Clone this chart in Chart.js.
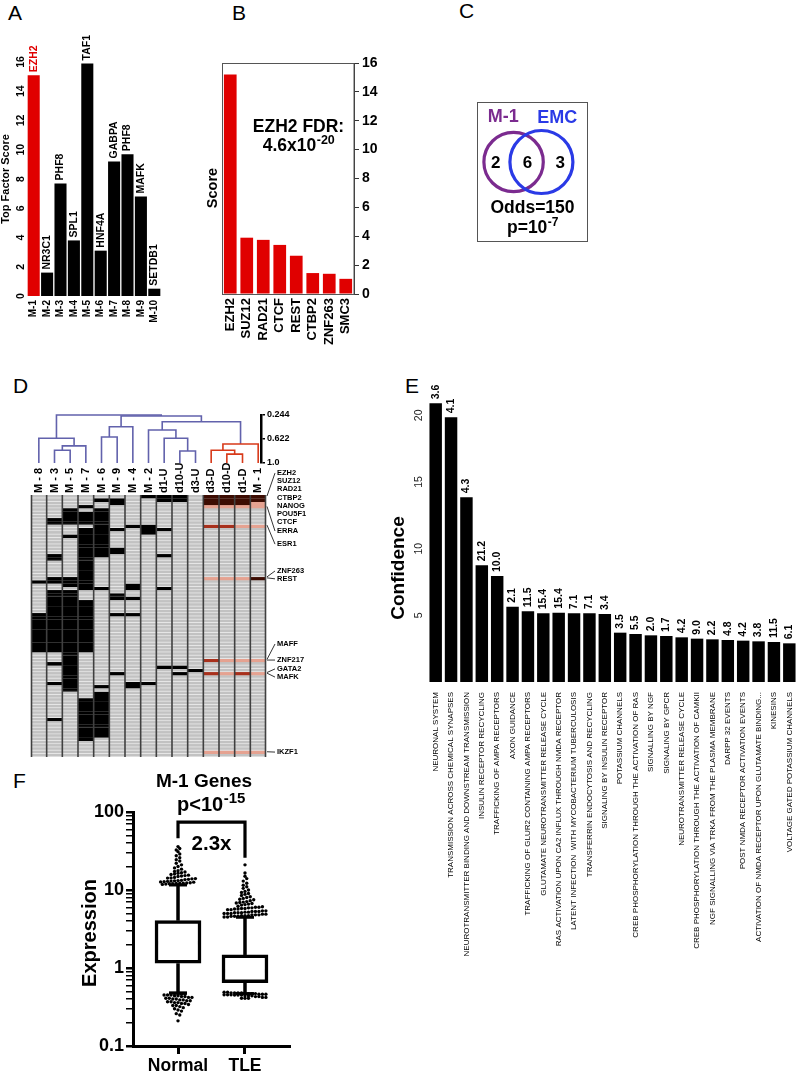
<!DOCTYPE html>
<html><head><meta charset="utf-8"><title>Figure</title>
<script src="https://cdn.jsdelivr.net/npm/chart.js@4.4.1/dist/chart.umd.min.js"></script>
<style>
html,body{margin:0;padding:0;background:#fff;}
#page{position:relative;width:800px;height:1075px;overflow:hidden;background:#fff;}
#page canvas{position:absolute;}
.pl{position:absolute;font-family:'Liberation Sans',Arial,sans-serif;font-size:21px;line-height:21px;color:#000;}
</style></head>
<body><div id="page">
<div class="pl" style="left:8px;top:2px">A</div>
<div class="pl" style="left:232px;top:2px">B</div>
<div class="pl" style="left:459px;top:0px">C</div>
<div class="pl" style="left:13px;top:375px">D</div>
<div class="pl" style="left:405px;top:375px">E</div>
<div class="pl" style="left:13px;top:770px">F</div>
<canvas id="cA" width="200" height="345" style="left:0px;top:0px"></canvas>
<canvas id="cB" width="200" height="360" style="left:200px;top:0px"></canvas>
<canvas id="cC" width="111" height="140" style="left:477px;top:102px"></canvas>
<canvas id="cDend" width="300" height="70" style="left:0px;top:400px"></canvas>
<canvas id="cHeat" width="330" height="312" style="left:0px;top:455px"></canvas>
<canvas id="cE" width="430" height="630" style="left:370px;top:370px"></canvas>
<canvas id="cF" width="310" height="315" style="left:0px;top:760px"></canvas>
</div>
<script>
// ================= DATA =================
// Panel A
const factorModules = ['M-1','M-2','M-3','M-4','M-5','M-6','M-7','M-8','M-9','M-10'];
const factorNames   = ['EZH2','NR3C1','PHF8','SPL1','TAF1','HNF4A','GABPA','PHF8','MAFK','SETDB1'];
const factorScores  = [15.1, 1.6, 7.7, 3.8, 15.9, 3.1, 9.2, 9.7, 6.8, 0.5];
const factorTicksA  = [0,2,4,6,8,10,12,14,16];

// Panel B
const emcFactors = ['EZH2','SUZ12','RAD21','CTCF','REST','CTBP2','ZNF263','SMC3'];
const emcScores  = [15.2, 3.9, 3.75, 3.4, 2.65, 1.45, 1.4, 1.05];
const emcFdrBase = '4.6x10', emcFdrExp = '-20';

// Panel C
const vennSets   = ['M-1','EMC'];
const vennOnly   = [2, 3];
const vennShared = 6;
const vennOdds   = 'Odds=150', vennPBase = 'p=10', vennPExp = '-7';

// Panel D
const heatCols = ['M - 8','M - 3','M - 5','M - 7','M - 6','M - 9','M - 4','M - 2','d1-U','d10-U','d3-U','d3-D','d10-D','d1-D','M - 1'];
const heatRowCount = 80;
// black (bound) runs per column: [startRow, endRow)
const blackRuns = [
  [[26,27],[36,48]],
  [[7,9],[18,20],[25,27],[29,48],[51,52],[57,58],[68,69]],
  [[4,9],[12,13],[25,28],[29,60]],
  [[3,4],[5,9],[10,29],[32,48],[62,75]],
  [[1,2],[4,19],[28,29],[58,59],[60,74]],
  [[1,3],[10,11],[16,18],[30,32],[36,37],[54,55]],
  [[9,10],[27,29],[31,32],[36,37],[57,59]],
  [[0,1],[9,12],[57,58]],
  [[0,2],[10,11],[18,19],[28,29],[52,53]],
  [[0,2],[52,53],[54,55]],
  [[53,54]],
  [],[],[],[]
];
// EZH2-cluster marks: [row, level] level 2 = strong, 3 = medium, 4 = weak
const clusterMarks = [
  [],[],[],[],[],[],[],[],[],[],[],
  [[0,2],[1,2],[2,2],[3,4],[9,3],[25,4],[50,3],[54,3],[78,4]],
  [[0,2],[1,2],[2,2],[3,4],[9,3],[25,4],[50,4],[54,4],[78,4]],
  [[0,2],[1,2],[2,2],[3,4],[9,4],[25,4],[50,4],[54,3],[78,4]],
  [[0,2],[1,2],[2,4],[3,4],[9,4],[25,2],[50,4],[54,4],[78,4]]
];
// dendrogram merges: [childA, childB, height]; leaves are heatCols indices
const dendroMerges = [
  [1,2,0.80],[15,3,0.73],[0,16,0.61],[4,5,0.59],[18,6,0.43],
  [9,10,0.81],[8,20,0.61],[7,21,0.48],[12,13,0.86],[11,23,0.80],
  [24,14,0.70],[22,25,0.35],[19,26,0.26],[17,27,0.244]
];
const dendroTicks = [0.244, 0.622, 1.0];
const dendroTickLabels = ['0.244','0.622','1.0'];
const tfLabels = ['EZH2','SUZ12','RAD21','CTBP2','NANOG','POU5F1','CTCF','ERRA','ESR1','ZNF263','REST','MAFF','ZNF217','GATA2','MAFK','IKZF1'];
const tfLabelRows = [-6.7,-4.3,-1.8,0.9,3.4,5.8,8.2,11,15,23.2,25.6,45.5,50.4,53.1,55.6,78.5];
const tfLeaders = [[0.3,0],[3.5,7],[9.2,8],[25,9],[25.3,10],[50.2,11],[50.4,12],[54.2,13],[54.4,14],[78.4,15]];

// Panel E
const pathways = [
  'NEURONAL SYSTEM','TRANSMISSION ACROSS CHEMICAL SYNAPSES','NEUROTRANSMITTER BINDING AND DOWNSTREAM TRANSMISSION',
  'INSULIN RECEPTOR RECYCLING','TRAFFICKING OF AMPA RECEPTORS','AXON GUIDANCE',
  'TRAFFICKING OF GLUR2 CONTAINING AMPA RECEPTORS','GLUTAMATE NEUROTRANSMITTER RELEASE CYCLE',
  'RAS ACTIVATION UPON CA2 INFLUX THROUGH NMDA RECEPTOR','LATENT INFECTION  WITH MYCOBACTERIUM TUBERCULOSIS',
  'TRANSFERRIN ENDOCYTOSIS AND RECYCLING','SIGNALING BY INSULIN RECEPTOR','POTASSIUM CHANNELS',
  'CREB PHOSPHORYLATION THROUGH THE ACTIVATION OF RAS','SIGNALLING BY NGF','SIGNALING BY GPCR',
  'NEUROTRANSMITTER RELEASE CYCLE','CREB PHOSPHORYLATION THROUGH THE ACTIVATION OF CAMKII',
  'NGF SIGNALLING VIA TRKA FROM THE PLASMA MEMBRANE','DARPP 32 EVENTS','POST NMDA RECEPTOR ACTIVATION EVENTS',
  'ACTIVATION OF NMDA RECEPTOR UPON GLUTAMATE BINDING...','KINESINS','VOLTAGE GATED POTASSIUM CHANNELS'
];
const pathwayConfidence = [20.9,19.85,13.85,8.75,7.95,5.65,5.3,5.15,5.2,5.15,5.15,5.1,3.7,3.6,3.5,3.45,3.35,3.25,3.2,3.15,3.1,3.05,3.0,2.9];
const pathwayFold = ['3.6','4.1','4.3','21.2','10.0','2.1','11.5','15.4','15.4','7.1','7.1','3.4','3.5','5.5','2.0','1.7','4.2','9.0','2.2','4.8','4.2','3.8','11.5','6.1'];
const confidenceTicks = [5,10,15,20];

// Panel F
const boxGroups      = ['Normal','TLE'];
const boxWhiskerLow  = [0.48, 0.47];
const boxQ1          = [1.15, 0.65];
const boxMedian      = [2.1, 0.92];
const boxQ3          = [4.04, 1.47];
const boxWhiskerHigh = [11.6, 4.47];
const normalOutliers = [
  11.8,11.9,12.0,12.0,12.1,12.2,12.2,12.3,12.4,12.6,12.7,12.8,12.9,13.0,13.1,13.2,13.3,
  13.6,13.7,13.9,14.0,14.2,14.3,14.5,14.9,15.1,15.3,15.5,15.8,16.0,16.4,16.7,17.0,17.3,17.7,
  18.5,19.2,20.0,21.0,22.0,23.5,24.5,26.0,27.5,29.0,31.0,32.5,34.0,36.0,
  0.47,0.47,0.46,0.46,0.46,0.45,0.45,0.45,0.44,0.44,0.43,0.43,0.42,0.42,0.41,0.41,0.40,0.40,
  0.39,0.39,0.38,0.38,0.37,0.37,0.36,0.36,0.35,0.35,0.34,0.33,0.33,0.32,0.31,0.30,0.29,0.28,0.26,0.25,0.21
];
const tleOutliers = [
  4.5,4.5,4.6,4.6,4.6,4.7,4.7,4.7,4.8,4.8,4.8,4.9,4.9,5.0,5.0,5.0,5.1,5.1,5.1,5.2,5.2,5.3,5.3,5.3,5.4,5.4,
  5.6,5.6,5.7,5.7,5.8,5.8,5.9,5.9,6.0,6.0,6.1,6.2,6.4,6.5,6.6,6.7,6.8,6.9,7.0,7.1,7.3,7.5,7.6,7.8,8.0,8.2,
  8.5,8.8,9.0,9.3,9.6,10.0,10.5,11.0,11.5,12.2,13.0,14.0,15.0,16.5,21.0,
  0.49,0.49,0.48,0.48,0.48,0.48,0.47,0.47,0.47,0.47,0.46,0.46,0.46,
  0.455,0.455,0.455,0.45,0.45,0.45,0.44,0.44,0.44,0.43,0.43,0.42,0.42,
  0.41,0.41,0.41
];
const bracketLevels = [46, 74, 26];
const foldChangeLabel = '2.3x';
const fTitle = 'M-1 Genes', fPBase = 'p<10', fPExp = '-15';

// ================= STYLE / HELPERS =================
const FONT = "'Liberation Sans', Arial, Helvetica, sans-serif";
const f = (s,b)=>(b?'bold ':'')+s+'px '+FONT;
const RED = '#e00000', PURPLE = '#7b2b8f', BLUE = '#2a3ae6', DBLUE = '#6262ac', DRED = '#d83a1a';
Chart.defaults.font.family = FONT;
Chart.defaults.color = '#000';
Chart.defaults.animation = false;
Chart.defaults.responsive = false;
Chart.defaults.devicePixelRatio = 1;
Chart.defaults.events = [];
Chart.defaults.layout.autoPadding = false;
Chart.defaults.plugins.legend.display = false;
Chart.defaults.plugins.tooltip.enabled = false;

const fixW = w => s => { s.width = w; s.paddingTop = 0; s.paddingBottom = 0; };
const fixH = h => s => { s.height = h; s.paddingLeft = 0; s.paddingRight = 0; };
const noGrid = {display:false, drawTicks:false};
const noBorder = {display:false};
function rotText(ctx, s, x, y, font, color, align, baseline){
  ctx.save(); ctx.translate(x,y); ctx.rotate(-Math.PI/2);
  ctx.font=font; ctx.fillStyle=color; ctx.textAlign=align; ctx.textBaseline=baseline;
  ctx.fillText(s,0,0); ctx.restore();
}
function supText(ctx, base, sup, cx, baseline, size, supSize, color){
  ctx.save(); ctx.fillStyle=color; ctx.textAlign='left'; ctx.textBaseline='alphabetic';
  ctx.font=f(size,true); const wb=ctx.measureText(base).width;
  ctx.font=f(supSize,true); const ws=ctx.measureText(sup).width;
  const x0=cx-(wb+ws)/2;
  ctx.font=f(size,true); ctx.fillText(base,x0,baseline);
  ctx.font=f(supSize,true); ctx.fillText(sup,x0+wb+0.5,baseline-size*0.42);
  ctx.restore();
}

// ================= PANEL A =================
new Chart(document.getElementById('cA'), {
  type:'bar',
  data:{labels:factorModules, datasets:[{data:factorScores,
    backgroundColor:factorScores.map((_,i)=>i===0?RED:'#000'), barPercentage:0.9, categoryPercentage:1}]},
  options:{
    layout:{padding:{left:0,right:39,top:62,bottom:0}},
    scales:{
      x:{grid:noGrid,border:noBorder,ticks:{autoSkip:false,minRotation:90,maxRotation:90,padding:4,font:{size:10,weight:'bold'},color:'#000'},afterFit:fixH(49)},
      y:{min:0,max:16,afterBuildTicks:s=>{s.ticks=factorTicksA.map(v=>({value:v}));},ticks:{display:false},grid:{display:false},border:noBorder,afterFit:fixW(27)}
    }
  },
  plugins:[{id:'aText',afterDraw(chart){
    const ctx=chart.ctx, y=chart.scales.y;
    chart.getDatasetMeta(0).data.forEach((bar,i)=>rotText(ctx,factorNames[i],bar.x,bar.y-3,f(10.5,true),i===0?RED:'#000','left','middle'));
    y.ticks.forEach(t=>rotText(ctx,String(t.value),21,y.getPixelForValue(t.value),f(10.5,true),'#000','center','middle'));
    rotText(ctx,'Top Factor Score',6,179,f(11,true),'#000','center','middle');
  }}]
});

// ================= PANEL B =================
new Chart(document.getElementById('cB'), {
  type:'bar',
  data:{labels:emcFactors, datasets:[{data:emcScores, backgroundColor:RED, barPercentage:0.77, categoryPercentage:1}]},
  options:{
    layout:{padding:{left:22,right:0,top:63,bottom:0}},
    scales:{
      x:{grid:noGrid,border:noBorder,ticks:{autoSkip:false,minRotation:90,maxRotation:90,padding:4,font:{size:13,weight:'bold'},color:'#000'},afterFit:fixH(66)},
      y:{position:'right',min:0,max:16,ticks:{stepSize:2,padding:3,font:{size:14,weight:'bold'},color:'#000'},
         grid:{drawOnChartArea:false,drawTicks:true,tickLength:5,color:'#333',lineWidth:1},
         border:{display:true,color:'#333',width:1},afterFit:fixW(46)}
    }
  },
  plugins:[{id:'bText',afterDraw(chart){
    const {ctx,chartArea:a}=chart, y=chart.scales.y;
    ctx.save(); ctx.strokeStyle='#555'; ctx.lineWidth=1;
    ctx.strokeRect(a.left+0.5,a.top+0.5,a.right-a.left-0.5,a.bottom-a.top); ctx.restore();
    const cx=(a.left+a.right)/2+10.5;
    ctx.save(); ctx.font=f(17.5,true); ctx.fillStyle='#000'; ctx.textAlign='center'; ctx.textBaseline='alphabetic';
    ctx.fillText('EZH2 FDR:',cx,y.getPixelForValue(11.2)); ctx.restore();
    supText(ctx,emcFdrBase,emcFdrExp,cx,y.getPixelForValue(9.9),17.5,12.5,'#000');
    rotText(ctx,'Score',13,188,f(14.5,true),'#000','center','middle');
  }}]
});

// ================= PANEL C (Venn) =================
const vennTotals = [vennOnly[0]+vennShared, vennOnly[1]+vennShared];
const vennR = vennTotals.map(t=>10.5*Math.sqrt(t));
const vennD = (vennR[0]+vennR[1])*(1 - vennShared/(vennOnly[0]+vennOnly[1]+vennShared));
new Chart(document.getElementById('cC'), {
  type:'bubble',
  data:{datasets:[{data:[{x:-vennD/2,y:0,r:vennR[0]},{x:vennD/2,y:0,r:vennR[1]}],
    backgroundColor:'rgba(0,0,0,0)', borderColor:[PURPLE,BLUE], borderWidth:3.2, clip:false}]},
  options:{layout:{padding:0,autoPadding:false},
    scales:{x:{display:false,min:-50.5,max:60.5},y:{display:false,min:-80,max:60}}},
  plugins:[{id:'cText',afterDraw(chart){
    const ctx=chart.ctx, xs=chart.scales.x, ys=chart.scales.y, W=chart.width, H=chart.height;
    const cy=ys.getPixelForValue(0), cl=xs.getPixelForValue(-vennD/2), cr=xs.getPixelForValue(vennD/2);
    ctx.save();
    ctx.strokeStyle='#555'; ctx.lineWidth=1; ctx.strokeRect(0.5,0.5,W-1,H-1);
    ctx.fillStyle='#000'; ctx.textAlign='center'; ctx.textBaseline='middle'; ctx.font=f(17,true);
    ctx.fillText(String(vennOnly[0]),cl-vennR[0]*0.6,cy+1);
    ctx.fillText(String(vennShared),(cl+cr)/2,cy+1);
    ctx.fillText(String(vennOnly[1]),cr+vennR[1]*0.6,cy+1);
    ctx.textBaseline='alphabetic'; ctx.font=f(18,true);
    ctx.fillStyle=PURPLE; ctx.fillText(vennSets[0],cl-vennR[0]*0.35,cy-vennR[0]-10);
    ctx.fillStyle=BLUE; ctx.fillText(vennSets[1],cr+vennR[1]*0.5,cy-vennR[1]-8);
    ctx.fillStyle='#000'; ctx.font=f(17.5,true); ctx.fillText(vennOdds,W/2,111);
    ctx.restore();
    supText(ctx,vennPBase,vennPExp,W/2,131,17.5,12,'#000');
  }}]
});

// ================= PANEL D: dendrogram =================
const nodeX = heatCols.map((_,i)=>i), nodeH = heatCols.map(()=>1.0), nodeLeaves = heatCols.map((_,i)=>[i]);
const dendroDatasets = dendroMerges.map(([a,b,h])=>{
  const leaves = nodeLeaves[a].concat(nodeLeaves[b]);
  const isD = leaves.every(l=>/-D$/.test(heatCols[l]) || heatCols[l]==='M - 1');
  const ds = {type:'line', data:[{x:nodeX[a],y:nodeH[a]},{x:nodeX[a],y:h},{x:nodeX[b],y:h},{x:nodeX[b],y:nodeH[b]}],
    borderColor:isD?DRED:DBLUE, borderWidth:1.6, pointRadius:0, clip:false, tension:0, borderJoinStyle:'miter'};
  nodeX.push((nodeX[a]+nodeX[b])/2); nodeH.push(h); nodeLeaves.push(leaves);
  return ds;
});
new Chart(document.getElementById('cDend'), {
  type:'line',
  data:{datasets:dendroDatasets},
  options:{
    layout:{padding:{left:31,right:0,top:15,bottom:7}},
    scales:{
      x:{type:'linear',display:false,min:-0.5,max:14.18},
      y:{position:'right',reverse:true,min:0.244,max:1.0,
         afterBuildTicks:s=>{s.ticks=dendroTicks.map(v=>({value:v}));},
         ticks:{callback:(v,i)=>dendroTickLabels[i],font:{size:9,weight:'bold'},color:'#000',padding:2},
         grid:{drawOnChartArea:false,drawTicks:true,tickLength:4,color:'#000',lineWidth:1.5},
         border:{display:true,color:'#000',width:2.5},afterFit:fixW(39)}
    }
  }
});

// ================= PANEL D: heatmap =================
const heatCells = heatCols.map(()=>new Array(heatRowCount).fill(0));
blackRuns.forEach((runs,c)=>runs.forEach(([s,e])=>{for(let r=s;r<e;r++) heatCells[c][r]=1;}));
clusterMarks.forEach((marks,c)=>marks.forEach(([r,lv])=>{heatCells[c][r]=lv;}));
const CELL_FILL = ['#c2c2c2','#000000','#3d0c02','#a8301c','#e5a291'];
const CELL_LINE = ['#e6e6e6','#000000','#3d0c02','#a8301c','#e5a291'];
const heatDatasets = [];
for (let r=0;r<heatRowCount;r++){
  heatDatasets.push({
    data: heatCols.map(()=>[r, r+1]),
    backgroundColor: heatCols.map((_,c)=>CELL_FILL[heatCells[c][r]]),
    borderColor: heatCols.map((_,c)=>CELL_LINE[heatCells[c][r]]),
    borderWidth:{top:0,left:0,right:0,bottom:1}, borderSkipped:false,
    grouped:false, barPercentage:1, categoryPercentage:1
  });
}
new Chart(document.getElementById('cHeat'), {
  type:'bar',
  data:{labels:heatCols, datasets:heatDatasets},
  options:{
    layout:{padding:{left:31,right:64,top:40,bottom:10}},
    scales:{
      x:{display:false},
      y:{display:false,min:0,max:heatRowCount,reverse:true}
    }
  },
  plugins:[{id:'heatDeco',
    beforeDatasetsDraw(chart){const {ctx,chartArea:a}=chart; ctx.save(); ctx.fillStyle='#dcdcdc';
      ctx.fillRect(a.left,a.top,a.right-a.left,a.bottom-a.top); ctx.restore();},
    afterDatasetsDraw(chart){
      const {ctx,chartArea:a}=chart, x=chart.scales.x;
      ctx.save(); ctx.strokeStyle='#404040'; ctx.lineWidth=1.6;
      for(let i=0;i<=heatCols.length;i++){
        const px = i===0 ? a.left+0.5 : (i===heatCols.length ? a.right-0.5 : (x.getPixelForValue(i-1)+x.getPixelForValue(i))/2);
        ctx.beginPath(); ctx.moveTo(px,a.top); ctx.lineTo(px,a.bottom); ctx.stroke();
      }
      ctx.restore();
    },
    afterDraw(chart){
      const {ctx,chartArea:a}=chart, y=chart.scales.y, x=chart.scales.x;
      heatCols.forEach((c,i)=>rotText(ctx,c,x.getPixelForValue(i),a.top-2,f(11,true),'#000','left','middle'));
      ctx.save(); ctx.font=f(7.5,true); ctx.fillStyle='#000'; ctx.textAlign='left'; ctx.textBaseline='middle';
      tfLabels.forEach((t,i)=>ctx.fillText(t,a.right+11,y.getPixelForValue(tfLabelRows[i])));
      ctx.strokeStyle='#000'; ctx.lineWidth=0.8;
      tfLeaders.forEach(([row,li])=>{ctx.beginPath(); ctx.moveTo(a.right+1,y.getPixelForValue(row));
        ctx.lineTo(a.right+9,y.getPixelForValue(tfLabelRows[li])); ctx.stroke();});
      ctx.restore();
    }}]
});

// ================= PANEL E =================
new Chart(document.getElementById('cE'), {
  type:'bar',
  data:{labels:pathways, datasets:[{data:pathwayConfidence, backgroundColor:'#000', barPercentage:0.81, categoryPercentage:1}]},
  options:{
    layout:{padding:{left:0,right:3,top:32,bottom:0}},
    scales:{
      x:{grid:noGrid,border:noBorder,ticks:{autoSkip:false,minRotation:90,maxRotation:90,padding:10,font:{size:8},color:'#000'},afterFit:fixH(318)},
      y:{min:0,max:21,afterBuildTicks:s=>{s.ticks=confidenceTicks.map(v=>({value:v}));},ticks:{display:false},grid:{display:false},border:noBorder,afterFit:fixW(58)}
    }
  },
  plugins:[{id:'eText',afterDraw(chart){
    const ctx=chart.ctx, y=chart.scales.y;
    chart.getDatasetMeta(0).data.forEach((bar,i)=>rotText(ctx,pathwayFold[i],bar.x,bar.y-4,f(10.5,true),'#000','left','middle'));
    y.ticks.forEach(t=>rotText(ctx,String(t.value),49,y.getPixelForValue(t.value),f(10.5),'#222','center','middle'));
    rotText(ctx,'Confidence',29,198,f(19,true),'#000','center','middle');
  }}]
});

// ================= PANEL F =================
const logTicks=[]; for(let e=-1;e<=1;e++) for(let k=1;k<=9;k++) logTicks.push(+(k*Math.pow(10,e)).toPrecision(3)); logTicks.push(100);
const majorTicks=[0.1,1,10,100];
function swarm(vals,cx){
  const bins={}, keys=vals.map(v=>{const b=Math.round(Math.log10(v)/0.045); (bins[b]=bins[b]||[]).push(v); return b;});
  const used={};
  return vals.map((v,i)=>{const b=keys[i], n=bins[b].length; used[b]=(used[b]===undefined?0:used[b]+1);
    return {x:cx+(used[b]-(n-1)/2)*0.052, y:v};});
}
const fDatasets = [
  {type:'bar', data:boxGroups.map((g,i)=>({x:i,y:[boxQ1[i],boxQ3[i]]})), backgroundColor:'#fff', borderColor:'#000',
   borderWidth:3.5, borderSkipped:false, barThickness:46},
  {type:'scatter', data:boxGroups.map((g,i)=>({x:i,y:boxMedian[i]})), pointStyle:'line', pointRadius:23,
   pointBorderWidth:3.5, pointBorderColor:'#000', borderColor:'#000'},
  {type:'scatter', data:boxGroups.flatMap((g,i)=>[{x:i,y:boxWhiskerHigh[i]},{x:i,y:boxWhiskerLow[i]}]), pointStyle:'line', pointRadius:9,
   pointBorderWidth:3, pointBorderColor:'#000', borderColor:'#000'}
];
boxGroups.forEach((g,i)=>{
  fDatasets.push({type:'line', data:[{x:i,y:boxQ3[i]},{x:i,y:boxWhiskerHigh[i]}], borderColor:'#000', borderWidth:3.5, pointRadius:0});
  fDatasets.push({type:'line', data:[{x:i,y:boxWhiskerLow[i]},{x:i,y:boxQ1[i]}], borderColor:'#000', borderWidth:3.5, pointRadius:0});
});
fDatasets.push({type:'scatter', data:swarm(normalOutliers,0).concat(swarm(tleOutliers,1)), pointRadius:1.7,
  pointBackgroundColor:'#000', pointBorderWidth:0, backgroundColor:'#000'});
fDatasets.push({type:'line', data:[{x:0,y:bracketLevels[0]},{x:0,y:bracketLevels[1]},{x:1,y:bracketLevels[1]},{x:1,y:bracketLevels[2]}],
  borderColor:'#000', borderWidth:3.2, pointRadius:0, clip:false, borderJoinStyle:'miter'});

new Chart(document.getElementById('cF'), {
  type:'bar',
  data:{datasets:fDatasets},
  options:{
    layout:{padding:{left:0,right:21,top:52,bottom:0}},
    scales:{
      x:{type:'linear',min:-0.672,max:1.657,offset:false,
         afterBuildTicks:s=>{s.ticks=boxGroups.map((g,i)=>({value:i}));},
         ticks:{callback:(v,i)=>boxGroups[i],font:{size:17.5,weight:'bold'},color:'#000',padding:2,autoSkip:false,maxRotation:0},
         grid:{offset:false,drawOnChartArea:false,drawTicks:true,tickLength:8,color:'#000',lineWidth:3},
         border:{display:true,color:'#000',width:3},afterFit:fixH(29)},
      y:{type:'logarithmic',min:0.1,max:100,
         afterBuildTicks:s=>{s.ticks=logTicks.map(v=>({value:v,major:majorTicks.includes(v)}));},
         ticks:{autoSkip:false,callback:v=>majorTicks.includes(v)?String(v):'',font:{size:18,weight:'bold'},color:'#000',padding:2},
         grid:{drawOnChartArea:false,drawTicks:true,tickLength:7,color:'#000',lineWidth:c=>(c.tick&&majorTicks.includes(c.tick.value))?2.5:1.5},
         border:{display:true,color:'#000',width:3},afterFit:fixW(133)}
    }
  },
  plugins:[{id:'fText',afterDraw(chart){
    const ctx=chart.ctx, x=chart.scales.x, y=chart.scales.y;
    ctx.save(); ctx.fillStyle='#000'; ctx.textAlign='center'; ctx.textBaseline='alphabetic';
    ctx.font=f(19,true); ctx.fillText(fTitle,204,27);
    ctx.font=f(20.5,true); ctx.fillText(foldChangeLabel,(x.getPixelForValue(0)+x.getPixelForValue(1))/2,y.getPixelForValue(32.6));
    ctx.restore();
    supText(ctx,fPBase,fPExp,211,51,20,15,'#000');
    rotText(ctx,'Expression',90,173,f(20,true),'#000','center','middle');
  }}]
});
</script>
</body></html>
